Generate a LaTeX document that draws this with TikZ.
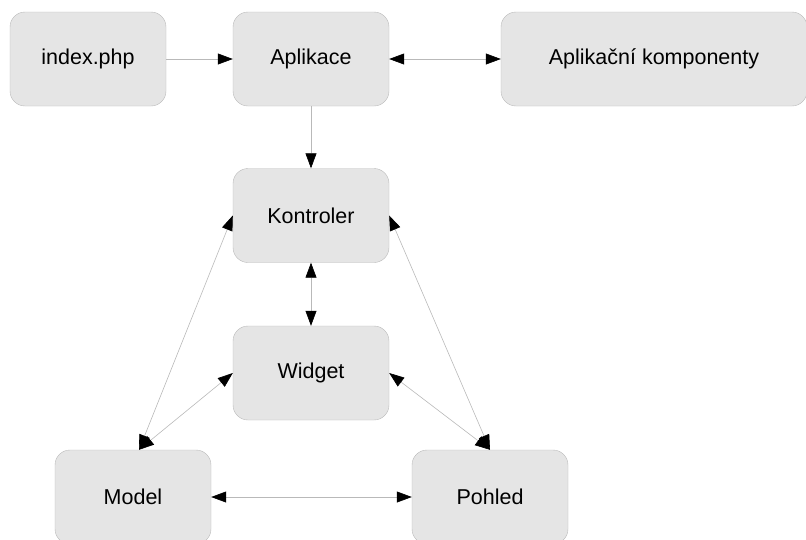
\documentclass[tikz,border=0pt]{standalone}
\usepackage{fontspec}
\setmainfont{Liberation Sans}
\usetikzlibrary{arrows.meta}
\definecolor{boite}{RGB}{229,229,229}
\definecolor{trait}{RGB}{185,185,185}

\begin{document}
\begin{tikzpicture}[x=1pt, y=-1pt, anchor=center,
	bloc/.style={rectangle, rounded corners=15pt, fill=boite, draw=trait, line width=0.4pt,
		minimum width=156pt, minimum height=94pt, inner sep=0pt, font=\fontsize{21.5}{25}\selectfont},
	pointe/.tip={Triangle[length=15pt, width=11pt, color=black]},
	lien/.style={draw=trait, line width=0.6pt, -pointe},
	lienbi/.style={draw=trait, line width=0.6pt, pointe-pointe}]

		\clip (0,0) rectangle (806,539);

		%les blocs
		\node[bloc] (index) at (88,59) {index.php};
		\node[bloc] (appli) at (311,59) {Aplikace};
		\node[bloc, minimum width=306pt] (compo) at (654,59) {Aplikační komponenty};
		\node[bloc] (kontroler) at (311,215.5) {Kontroler};
		\node[bloc] (widget) at (311,373) {Widget};
		\node[bloc] (model) at (133,497) {Model};
		\node[bloc] (pohled) at (490,497) {Pohled};

		%les liens
		\draw[lien] (index) -- (appli);
		\draw[lienbi] (appli) -- (compo);
		\draw[lien] (appli) -- (kontroler);
		\draw[lienbi] (kontroler) -- (widget);
		\draw[lienbi] (kontroler.west) -- ([xshift=6pt]model.north);
		\draw[lienbi] (widget.west) -- ([xshift=6pt]model.north);
		\draw[lienbi] (kontroler.east) -- (pohled.north);
		\draw[lienbi] (widget.east) -- (pohled.north);
		\draw[lienbi] (model) -- (pohled);

\end{tikzpicture}
\end{document}
